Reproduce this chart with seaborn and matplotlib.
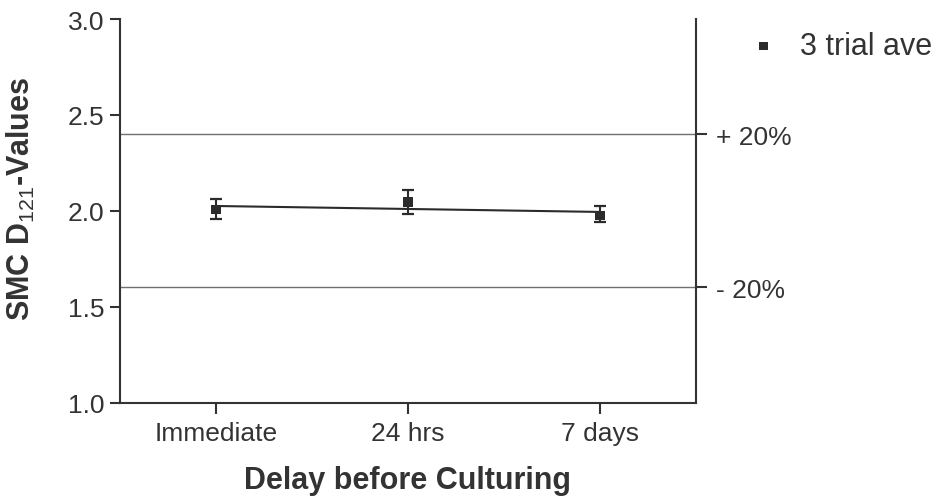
import numpy as np
import pandas as pd
import matplotlib
matplotlib.use("Agg")
import matplotlib.pyplot as plt
import seaborn as sns

# ---- data ----
categories = ["Immediate", "24 hrs", "7 days"]
means = [2.007, 2.045, 1.976]
upper = [2.0625, 2.109, 2.023]
lower = [1.955, 1.984, 1.941]
ref_levels = [1.6, 2.4]
ref_labels = ["- 20%", "+ 20%"]
y_ticks = [1.0, 1.5, 2.0, 2.5, 3.0]
series_label = "3 trial ave"

sns.set_style("ticks")
plt.rcParams["font.family"] = ["Liberation Sans", "DejaVu Sans"]
plt.rcParams["mathtext.fontset"] = "custom"
plt.rcParams["mathtext.rm"] = "Liberation Sans"
plt.rcParams["mathtext.bf"] = "Liberation Sans:bold"

TXT = "#333333"
DARK = "#2b2b2b"

pos = np.arange(len(categories))
df = pd.DataFrame({"pos": pos, "mean": means, "cat": categories})
err_lo = np.array(means) - np.array(lower)
err_hi = np.array(upper) - np.array(means)

fig = plt.figure(figsize=(9.4, 5.02), dpi=100)
ax = fig.add_axes([120 / 940, 1 - 403.5 / 502, 575.7 / 940, 383.5 / 502])

# reference lines
for lv in ref_levels:
    ax.axhline(lv, color="#707070", lw=1.0, zorder=1)

# trend line
sns.regplot(data=df, x="pos", y="mean", ci=None, scatter=False, truncate=True,
            line_kws=dict(color=DARK, lw=1.5, zorder=2), ax=ax)

# error bars
ax.errorbar(pos, means, yerr=[err_lo, err_hi], fmt="none", ecolor=DARK,
            elinewidth=1.5, capsize=4, capthick=1.6, zorder=3)

# markers
sns.scatterplot(data=df, x="pos", y="mean", marker="s", s=48, color=DARK,
                edgecolor="none", label=series_label, zorder=4, ax=ax)

ax.set_xlim(-0.5, 2.5)
ax.set_ylim(1.0, 3.0)
ax.set_xticks(pos)
ax.set_xticklabels(categories)
ax.set_yticks(y_ticks)
ax.set_yticklabels([f"{v:.1f}" for v in y_ticks])

for sp in ["left", "bottom", "right"]:
    ax.spines[sp].set_visible(True)
    ax.spines[sp].set_color(TXT)
    ax.spines[sp].set_linewidth(1.5)
ax.spines["top"].set_visible(False)

ax.tick_params(axis="y", which="both", labelsize=19, colors=TXT, length=7,
               width=1.5, pad=4, direction="out")
ax.tick_params(axis="x", which="both", labelsize=19, colors=TXT, length=8,
               width=1.5, pad=5, direction="out")

ax.set_xlabel("Delay before Culturing", fontsize=22, fontweight="bold", color=TXT)
ax.set_ylabel(r"SMC D$_{\mathrm{121}}$-Values", fontsize=22, fontweight="bold", color=TXT)
ax.xaxis.set_label_coords(0.5, (403.5 - 466) / 383.5)
ax.yaxis.set_label_coords((37 - 120) / 575.7, (403.5 - 199) / 383.5)

# right axis with +/-20% labels
ax2 = ax.twinx()
ax2.set_ylim(ax.get_ylim())
ax2.set_yticks(ref_levels)
ax2.set_yticklabels(ref_labels)
ax2.tick_params(axis="y", labelsize=19, colors=TXT, length=8, width=1.5,
                pad=6.5, direction="out")
for sp in ["left", "bottom", "top", "right"]:
    ax2.spines[sp].set_visible(False)

leg = ax.legend(loc="center left", bbox_to_anchor=(748 / 940, 1 - 47 / 502),
                bbox_transform=fig.transFigure, frameon=False, fontsize=22,
                handlelength=1.0, handletextpad=0.7, borderpad=0,
                borderaxespad=0, markerscale=0.9)
for t in leg.get_texts():
    t.set_color(TXT)

fig.savefig("out.png", dpi=100)
